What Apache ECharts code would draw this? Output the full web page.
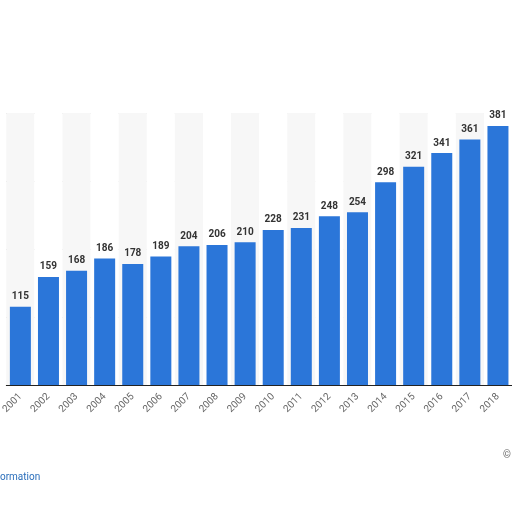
<!DOCTYPE html>
<html>
<head>
<meta charset="utf-8">
<script src="https://cdn.jsdelivr.net/npm/echarts@6/dist/echarts.min.js"></script>
<style>html,body{margin:0;padding:0;background:#fff}#main{width:512px;height:512px}</style>
</head>
<body>
<div id="main"></div>
<script>
var years = ['2001','2002','2003','2004','2005','2006','2007','2008','2009','2010','2011','2012','2013','2014','2015','2016','2017','2018'];
var values = [115,159,168,186,178,189,204,206,210,228,231,248,254,298,321,341,361,381];

var chart = echarts.init(document.getElementById('main'));
chart.setOption({
    backgroundColor: '#fff',
    animation: false,
    grid: { left: -24, width: 548, top: 113, height: 272 },
    xAxis: {
        type: 'category',
        data: years,
        axisLine: { lineStyle: { color: '#222', width: 1 } },
        axisTick: { show: false },
        axisLabel: { rotate: 45, color: '#666', fontSize: 10, fontFamily: 'Roboto', margin: 10 },
        splitArea: { show: true, areaStyle: { color: ['#f7f7f7', '#ffffff'] } }
    },
    yAxis: {
        type: 'value',
        min: 0, max: 400, interval: 100,
        axisLabel: { show: false },
        axisLine: { show: false },
        axisTick: { show: false },
        splitLine: { lineStyle: { color: '#ccc', type: 'dotted' } }
    },
    series: [{
        type: 'bar',
        data: values,
        barWidth: 21,
        itemStyle: { color: '#2b76d9' },
        label: { show: true, position: 'top', color: '#333', fontWeight: 'bold', fontSize: 10, fontFamily: 'Roboto' }
    }],
    graphic: [
        { type: 'text', left: 0, top: 472, style: { text: 'ormation', fill: '#2a6ebb', fontSize: 10, fontFamily: 'Roboto' } },
        { type: 'text', left: 503, top: 450, style: { text: '©', fill: '#666', fontSize: 10, fontFamily: 'Roboto' } }
    ]
});
</script>
</body>
</html>
